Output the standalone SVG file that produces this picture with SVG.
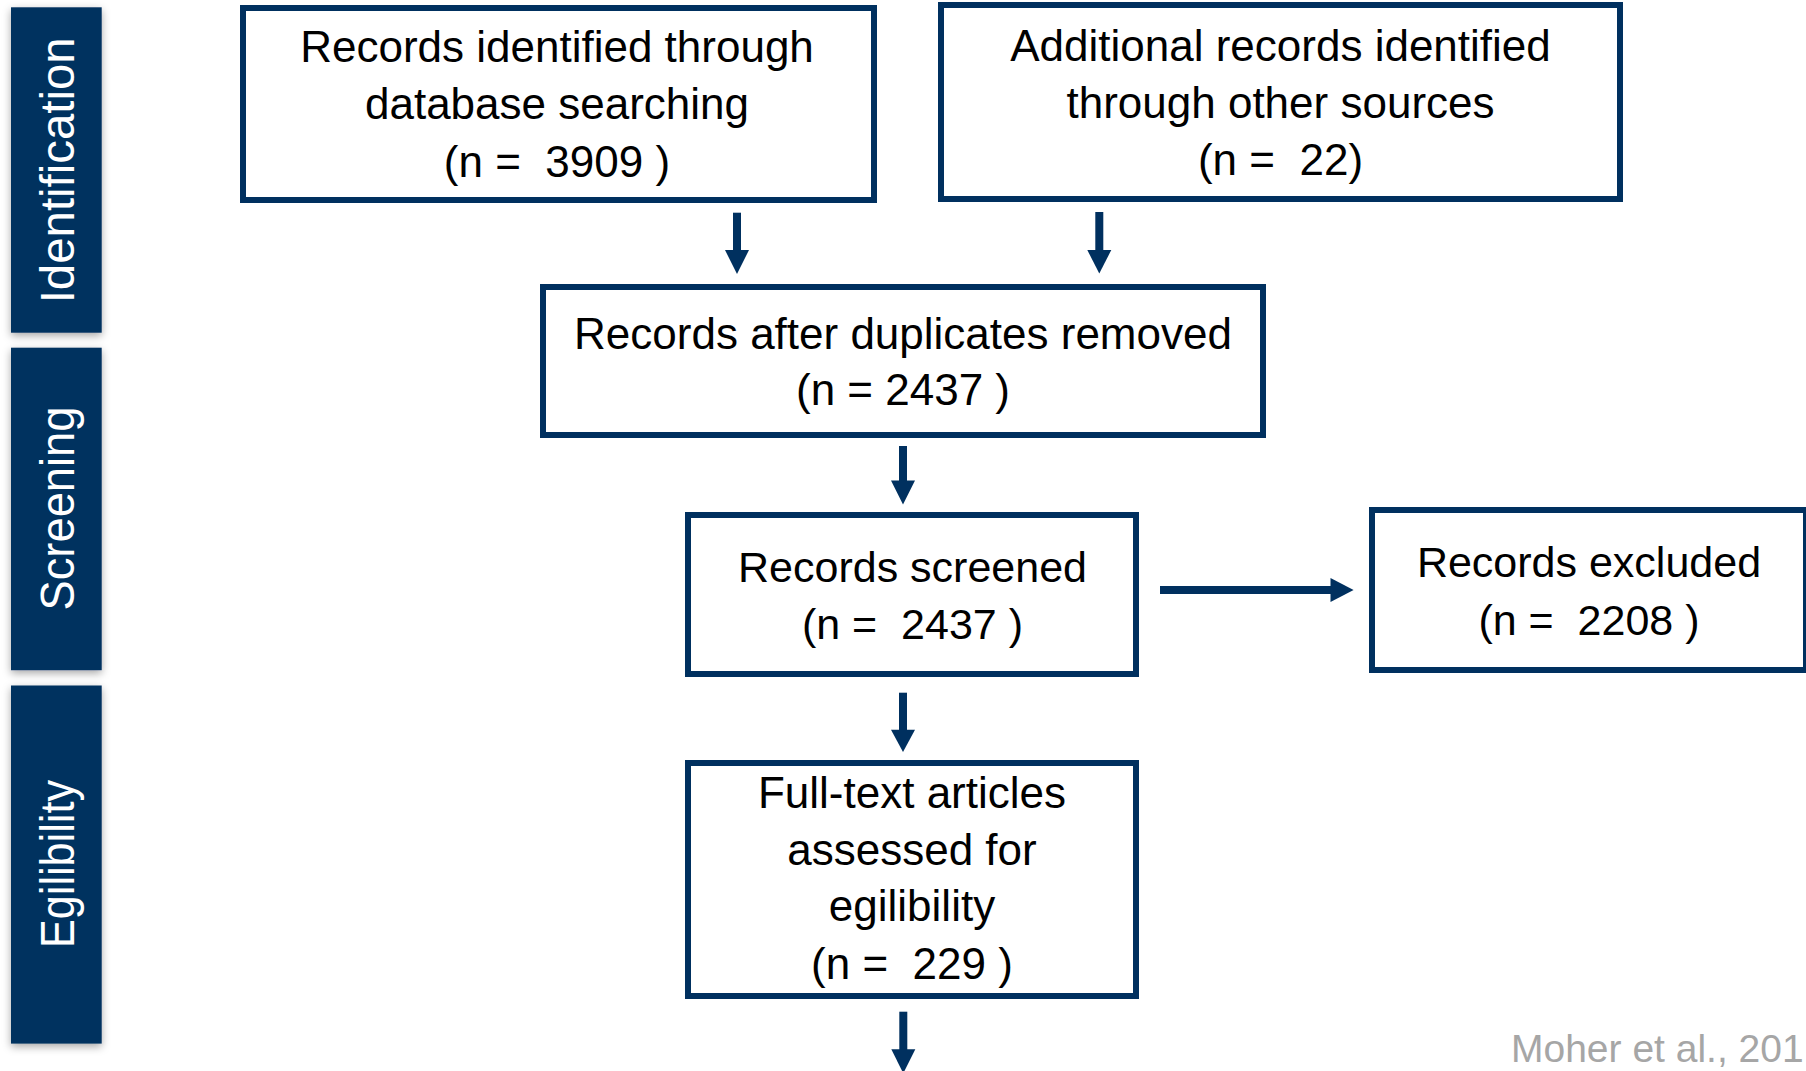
<svg xmlns="http://www.w3.org/2000/svg" width="1806" height="1071" viewBox="0 0 1806 1071">
<style>
.box{fill:#ffffff;stroke:#00305f;stroke-width:6}
.t{font-family:"Liberation Sans",Arial,sans-serif;font-size:44px;fill:#000000;text-anchor:middle;white-space:pre}
.s43{font-size:43px}
.bar{fill:#00305f}
.bt{font-family:"Liberation Sans",Arial,sans-serif;font-size:48px;fill:#ffffff;text-anchor:middle}
.sh{fill:#00305f;stroke:none}
.cite{font-family:"Liberation Sans",Arial,sans-serif;font-size:39px;fill:#a6a6a6}
</style>
<defs>
<filter id="shadow" x="-30%" y="-10%" width="160%" height="120%">
<feDropShadow dx="0" dy="3" stdDeviation="4" flood-color="#000000" flood-opacity="0.35"/>
</filter>
</defs>
<rect width="1806" height="1071" fill="#ffffff"/>
<g id="phase-identification">
<rect class="bar" x="11" y="7.3" width="90.7" height="325.4" filter="url(#shadow)"/>
<text class="bt" transform="translate(73.5,170.3) rotate(-90)" x="0" y="0" textLength="266" lengthAdjust="spacingAndGlyphs">Identification</text>
</g>
<g id="phase-screening">
<rect class="bar" x="11" y="347.7" width="90.7" height="322.5" filter="url(#shadow)"/>
<text class="bt" transform="translate(73.5,508.5) rotate(-90)" x="0" y="0" textLength="204" lengthAdjust="spacingAndGlyphs">Screening</text>
</g>
<g id="phase-egilibility">
<rect class="bar" x="11" y="685.5" width="90.7" height="358.1" filter="url(#shadow)"/>
<text class="bt" transform="translate(73.5,864) rotate(-90)" x="0" y="0" textLength="168" lengthAdjust="spacingAndGlyphs">Egilibility</text>
</g>
<g id="node-database">
<rect class="box" x="243" y="8" width="631" height="192"/>
<text class="t" x="557" y="62">Records identified through</text>
<text class="t" x="557" y="119">database searching</text>
<text class="t" x="557" y="176.5" xml:space="preserve">(n =  3909 )</text>
</g>
<g id="node-other">
<rect class="box" x="941" y="5" width="679" height="194"/>
<text class="t" x="1280.5" y="61">Additional records identified</text>
<text class="t" x="1280.5" y="117.5">through other sources</text>
<text class="t" x="1280.5" y="175" xml:space="preserve">(n =  22)</text>
</g>
<g id="node-dedup">
<rect class="box" x="543" y="287" width="720" height="148"/>
<text class="t" x="903" y="348.5">Records after duplicates removed</text>
<text class="t" x="903" y="405">(n = 2437 )</text>
</g>
<g id="node-screened">
<rect class="box" x="688" y="515" width="448" height="159"/>
<text class="t s43" x="912.5" y="581.5">Records screened</text>
<text class="t s43" x="912.5" y="639" xml:space="preserve">(n =  2437 )</text>
</g>
<g id="node-excluded">
<rect class="box" x="1372" y="510" width="434" height="160"/>
<text class="t s43" x="1589" y="577">Records excluded</text>
<text class="t s43" x="1589" y="635" xml:space="preserve">(n =  2208 )</text>
</g>
<g id="node-fulltext">
<rect class="box" x="688" y="763" width="448" height="233"/>
<text class="t" x="912" y="808">Full-text articles</text>
<text class="t" x="912" y="864.5">assessed for</text>
<text class="t" x="912" y="921">egilibility</text>
<text class="t" x="912" y="979" xml:space="preserve">(n =  229 )</text>
</g>
<g id="connectors">
<rect class="sh" x="733" y="212.7" width="8" height="38"/>
<polygon class="sh" points="725,250 749,250 737,274"/>
<rect class="sh" x="1095.3" y="212" width="8" height="38.5"/>
<polygon class="sh" points="1087.3,250 1111.3,250 1099.3,273.5"/>
<rect class="sh" x="899" y="446" width="8" height="35"/>
<polygon class="sh" points="891,480.5 915,480.5 903,504.5"/>
<rect class="sh" x="899" y="692.7" width="8" height="38"/>
<polygon class="sh" points="891,729.7 915,729.7 903,752"/>
<rect class="sh" x="899.3" y="1011.7" width="8" height="38.5"/>
<polygon class="sh" points="891.3,1049.3 915.3,1049.3 903.3,1073.3"/>
<rect class="sh" x="1160" y="586" width="171" height="8"/>
<polygon class="sh" points="1330.5,578 1330.5,602 1353.6,590"/>
</g>
<text class="cite" x="1511" y="1062">Moher et al., 201</text>
</svg>
